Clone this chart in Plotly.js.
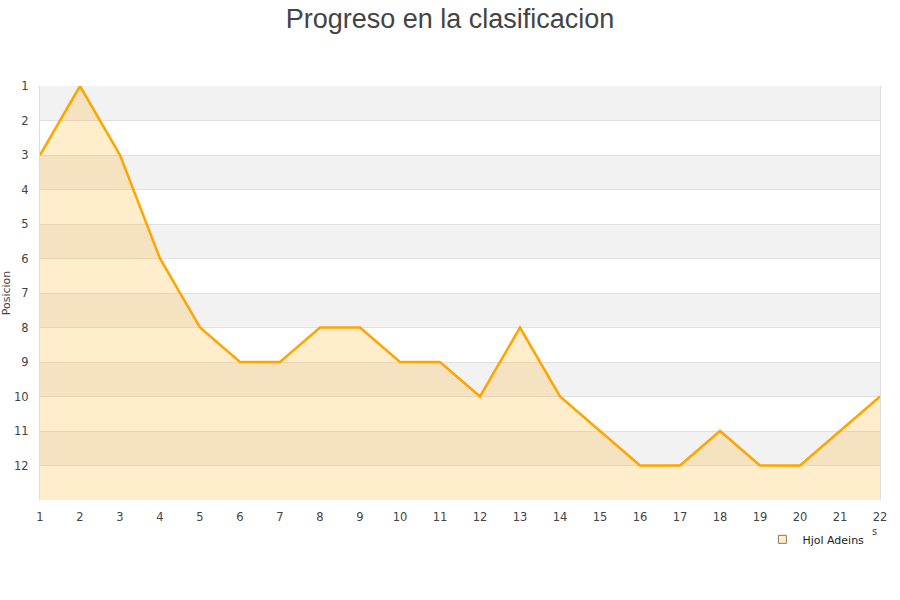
<!DOCTYPE html>
<html>
<head>
<meta charset="utf-8">
<script src="https://cdn.plot.ly/plotly-3.0.1.min.js"></script>
<style>html,body{margin:0;padding:0;background:#fff;}#chart{width:900px;height:600px;}</style>
</head>
<body>
<div id="chart"></div>
<script>
const jornadas = [1,2,3,4,5,6,7,8,9,10,11,12,13,14,15,16,17,18,19,20,21,22];
const posiciones = [3,1,3,6,8,9,9,8,8,9,9,10,8,10,11,12,12,11,12,12,11,10];
const equipo = "Hjol Adeins";
const yTicks = [1,2,3,4,5,6,7,8,9,10,11,12];
const bandStarts = [1,3,5,7,9,11];
const fondo = 13;

const baseline = {
  x: jornadas, y: jornadas.map(() => fondo),
  mode: 'lines', line: {width: 0, color: 'rgba(0,0,0,0)'},
  showlegend: false, hoverinfo: 'skip'
};
const main = {
  x: jornadas, y: posiciones, name: equipo,
  mode: 'lines', fill: 'tonexty', fillcolor: 'rgba(255,165,0,0.2)',
  line: {color: '#ffa500', width: 2.5}, showlegend: false
};
const legendItem = {
  x: [null], y: [null], name: equipo, mode: 'markers',
  marker: {symbol: 'square', size: 8, color: '#ffedcc', line: {color: '#8a7a5a', width: 1}},
  showlegend: true
};

const shapes = bandStarts.map(s => ({
  type: 'rect', xref: 'paper', yref: 'y', x0: 0, x1: 1, y0: s, y1: s + 1,
  fillcolor: '#f2f2f2', line: {width: 0}, layer: 'below'
}));

const layout = {
  width: 900, height: 600,
  margin: {l: 40, r: 20, t: 86, b: 100},
  paper_bgcolor: '#fff', plot_bgcolor: '#fff',
  font: {family: 'DejaVu Sans, sans-serif', size: 11, color: '#444'},
  title: {text: 'Progreso en la clasificacion', x: 0.5, xanchor: 'center', y: 0.985, yanchor: 'top',
          font: {family: 'Liberation Sans, Arial, sans-serif', size: 27, color: '#444'}},
  xaxis: {range: [1, 22], tickvals: jornadas, showgrid: false, zeroline: false,
          showline: false, ticks: '', ticklabelstandoff: 8, tickfont: {size: 11.5, color: '#444'}},
  yaxis: {range: [fondo, 1], tickvals: yTicks, showgrid: true, gridcolor: '#e0e0e0',
          zeroline: false, showline: true, linecolor: '#dddddd', mirror: true, ticks: '',
          ticklabelstandoff: 8, tickfont: {size: 11.5, color: '#444'},
          title: {text: 'Posicion', font: {size: 11, color: '#444'}, standoff: 10}},
  shapes: shapes,
  showlegend: true,
  legend: {x: 0.86, y: -0.06, xanchor: 'left', yanchor: 'top', bgcolor: 'rgba(0,0,0,0)',
           font: {size: 11, color: '#222'}, itemwidth: 30},
  annotations: [{text: 's', xref: 'paper', yref: 'paper', x: 0.994, y: -0.076,
                 xanchor: 'center', yanchor: 'middle',
                 showarrow: false, font: {size: 10, color: '#444'}}]
};

Plotly.newPlot('chart', [baseline, main, legendItem], layout, {displayModeBar: false, staticPlot: true});
</script>
</body>
</html>
